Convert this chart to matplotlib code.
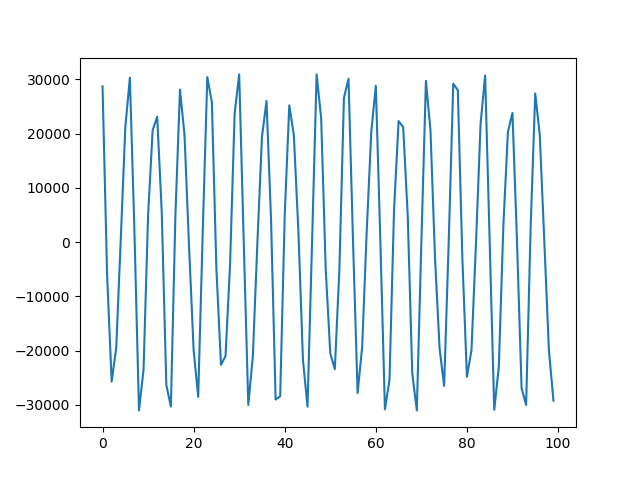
import matplotlib
matplotlib.use("Agg")
import matplotlib.pyplot as plt
import numpy as np

values = [
    28700, -6000, -25700, -19500, 500, 21200, 30300, 2000, -31000, -23500,
    5000, 20600, 23100, 5500, -26300, -30300, 5000, 28100, 19700, -1000,
    -19900, -28500, 2000, 30400, 25800, -5000, -22600, -21000, -4000, 23700,
    30900, 0, -30000, -21000, 0, 19400, 26000, 4000, -29000, -28400,
    5000, 25200, 19700, 2000, -21700, -30300, 0, 30900, 22800, -5000,
    -20500, -23400, -5000, 26600, 30100, 0, -27800, -19300, 2000, 20300,
    28800, 0, -30800, -25400, 6000, 22300, 21200, 5000, -24200, -31000,
    0, 29700, 20600, -3000, -19600, -26500, 0, 29200, 28000, -3000,
    -24800, -19900, 0, 21800, 30700, 0, -30900, -23000, 3000, 20300,
    23800, 0, -26900, -30000, 3000, 27400, 19700, 0, -19900, -29200,
]
x = np.arange(len(values))

fig, ax = plt.subplots(figsize=(6.4, 4.8), dpi=100)
ax.plot(x, values)
fig.savefig("out.png")
